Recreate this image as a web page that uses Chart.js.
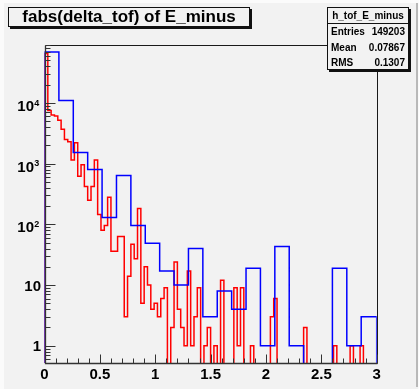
<!DOCTYPE html>
<html>
<head>
<meta charset="utf-8">
<script src="https://cdn.jsdelivr.net/npm/chart.js@4.4.1/dist/chart.umd.min.js"></script>
<style>
  html, body { margin: 0; padding: 0; background: #fafafa; }
  #wrap { position: relative; width: 419px; height: 389px; background: #f2f2f2; overflow: hidden;
          font-family: "Liberation Sans", Arial, sans-serif; }
  #wrap canvas { position: absolute; left: 0; top: 0; }
  .edge { position: absolute; }
  #title { position: absolute; left: 8px; top: 7px; width: 242px; height: 20px; box-sizing: border-box;
           border: 1px solid #111; box-shadow: 2px 2px 0 #111; background: #f2f2f2;
           font-weight: bold; font-size: 17px; line-height: 18px; text-align: center; color: #000; }
  #stats { position: absolute; left: 327px; top: 7px; width: 82px; height: 63px; box-sizing: border-box;
           border: 1px solid #111; box-shadow: 2px 2px 0 #111; background: #f2f2f2;
           font-weight: bold; font-size: 10px; color: #000; }
  #stats .head { height: 15px; line-height: 15px; text-align: center; border-bottom: 1px solid #111; }
  #stats .row { height: 15.5px; line-height: 15.5px; padding: 0 3px 0 3px; display: flex; justify-content: space-between; }
</style>
</head>
<body>
<div id="wrap">
  <div class="edge" style="left:0;top:0;width:419px;height:3px;background:#fbfbfb"></div>
  <div class="edge" style="left:0;top:0;width:4px;height:389px;background:#fbfbfb"></div>
  <div class="edge" style="left:416px;top:3px;width:2px;height:384px;background:#b9b9b9"></div>
  <div class="edge" style="left:418px;top:0;width:1px;height:389px;background:#fbfbfb"></div>
  <canvas id="histo" width="419" height="389"></canvas>
  <div id="title">fabs(delta_tof) of E_minus</div>
  <div id="stats">
    <div class="head">h_tof_E_minus</div>
    <div class="row"><span>Entries</span><span>149203</span></div>
    <div class="row"><span>Mean</span><span>0.07867</span></div>
    <div class="row"><span>RMS</span><span>0.1307</span></div>
  </div>
</div>
<script>
// axis range
const xMin = 0, xMax = 3;
const yMin = 0.52, yMax = 9.0e4;

// red histogram: 100 bins of 0.03
const redBinWidth = 0.03;
const redCounts = [
  65000, 7500, 6300, 6100, 5200, 3700, 2500, 2300, 1150, 2200,
  620, 960, 420, 250, 420, 1150, 145, 80, 96, 280,
  36, 36, 63, 63, 3, 14, 47, 27, 182, 5,
  20, 10, 4, 5, 3, 6, 9, 0, 2, 24,
  4, 2, 1, 17, 1, 3, 9, 0, 1, 2,
  0, 1, 0, 12, 0, 0, 0, 9, 1, 9,
  0, 0, 1, 0, 0, 0, 0, 0, 3, 6,
  0, 0, 0, 0, 0, 0, 0, 0, 2, 0,
  0, 0, 0, 0, 0, 0, 0, 1, 0, 0,
  0, 0, 1, 0, 0, 1, 0, 0, 0, 0
];

// blue histogram: coarse bins of 0.13
const blueBinWidth = 0.13;
const blueCounts = [
  69000, 11000, 1530, 800, 130, 640, 96, 49, 17, 10,
  40, 3, 8, 4, 19, 1, 43, 1, 0, 0,
  19, 1, 3
];

// tick labels
const xTickLabels = ['0', '0.5', '1', '1.5', '2', '2.5', '3'];
const yTickValues = [1, 10, 100, 1000, 10000];
const yTickLabels = ['1', '10', '10^2', '10^3', '10^4'];

// turn bin contents into an outline (empty bins drop below the frame)
function stepPoints(counts, width) {
  const floor = yMin / 10;
  const pts = [{ x: xMin, y: floor }];
  counts.forEach((c, i) => pts.push({ x: i * width, y: c > 0 ? c : floor }));
  const xEnd = Math.max(counts.length * width, xMax);
  pts.push({ x: xEnd, y: counts[counts.length - 1] || floor });
  pts.push({ x: xEnd, y: floor });
  return pts;
}

const rootAxes = {
  id: 'rootAxes',
  afterDatasetsDraw(chart) {
    const { ctx, chartArea: a } = chart;
    const x = chart.scales.x, y = chart.scales.y;
    const L = Math.round(a.left) + 0.5, B = Math.round(a.bottom) + 0.5;
    const R = Math.round(a.right) + 0.5, T = Math.round(a.top) + 0.5;
    ctx.save();

    // frame
    ctx.strokeStyle = '#1a1a1a';
    ctx.lineWidth = 1;
    ctx.beginPath();
    ctx.moveTo(L, T); ctx.lineTo(R, T); ctx.lineTo(R, B);
    ctx.stroke();
    ctx.strokeStyle = '#333';
    ctx.lineWidth = 1.3;
    ctx.beginPath();
    ctx.moveTo(L, T); ctx.lineTo(L, B); ctx.lineTo(R, B);
    ctx.stroke();

    // x ticks, pointing up into the frame
    ctx.lineWidth = 1;
    ctx.beginPath();
    for (let i = 0; i <= 30; i++) {
      const px = Math.round(x.getPixelForValue(i / 10)) + 0.5;
      const len = i % 5 === 0 ? 9 : 5;
      ctx.moveTo(px, B); ctx.lineTo(px, B - len);
    }
    // y ticks on the log axis
    for (let d = -1; d <= 4; d++) {
      for (let m = 1; m <= 9; m++) {
        const v = m * Math.pow(10, d);
        if (v < y.min || v > y.max) continue;
        const py = Math.round(y.getPixelForValue(v)) + 0.5;
        const len = m === 1 ? 10 : 5;
        ctx.moveTo(L, py); ctx.lineTo(L + len, py);
      }
    }
    ctx.stroke();

    // labels
    ctx.fillStyle = '#000';
    ctx.font = 'bold 15px "Liberation Sans", Arial, sans-serif';
    ctx.textBaseline = 'alphabetic';
    ctx.textAlign = 'center';
    xTickLabels.forEach(l => {
      ctx.fillText(l, x.getPixelForValue(parseFloat(l)), a.bottom + 15.5);
    });

    yTickValues.forEach((v, i) => {
      const py = y.getPixelForValue(v);
      const parts = yTickLabels[i].split('^');
      if (parts.length === 1) {
        ctx.font = 'bold 15px "Liberation Sans", Arial, sans-serif';
        ctx.textAlign = 'right';
        ctx.fillText(parts[0], a.left - 3.5, py + 5.6);
      } else {
        ctx.font = 'bold 15px "Liberation Sans", Arial, sans-serif';
        ctx.textAlign = 'right';
        const baseRight = a.left - 10.5;
        ctx.fillText(parts[0], baseRight, py + 8);
        ctx.font = 'bold 9px "Liberation Sans", Arial, sans-serif';
        ctx.textAlign = 'left';
        ctx.fillText(parts[1], baseRight + 0.3, py + 2.6);
      }
    });
    ctx.restore();
  }
};

new Chart(document.getElementById('histo'), {
  type: 'line',
  data: {
    datasets: [
      {
        label: 'blue',
        data: stepPoints(blueCounts, blueBinWidth),
        borderColor: '#0000ff',
        borderWidth: 1.5,
        stepped: true,
        pointRadius: 0,
        fill: false
      },
      {
        label: 'h_tof_E_minus',
        data: stepPoints(redCounts, redBinWidth),
        borderColor: '#ff0000',
        borderWidth: 1.5,
        stepped: true,
        pointRadius: 0,
        fill: false
      }
    ]
  },
  options: {
    responsive: false,
    animation: false,
    devicePixelRatio: 1,
    layout: { padding: { left: 44.5, top: 45, right: 42.3, bottom: 26 } },
    plugins: { legend: { display: false }, tooltip: { enabled: false }, title: { display: false } },
    scales: {
      x: { type: 'linear', min: xMin, max: xMax, display: false },
      y: { type: 'logarithmic', min: yMin, max: yMax, display: false }
    }
  },
  plugins: [rootAxes]
});
</script>
</body>
</html>
